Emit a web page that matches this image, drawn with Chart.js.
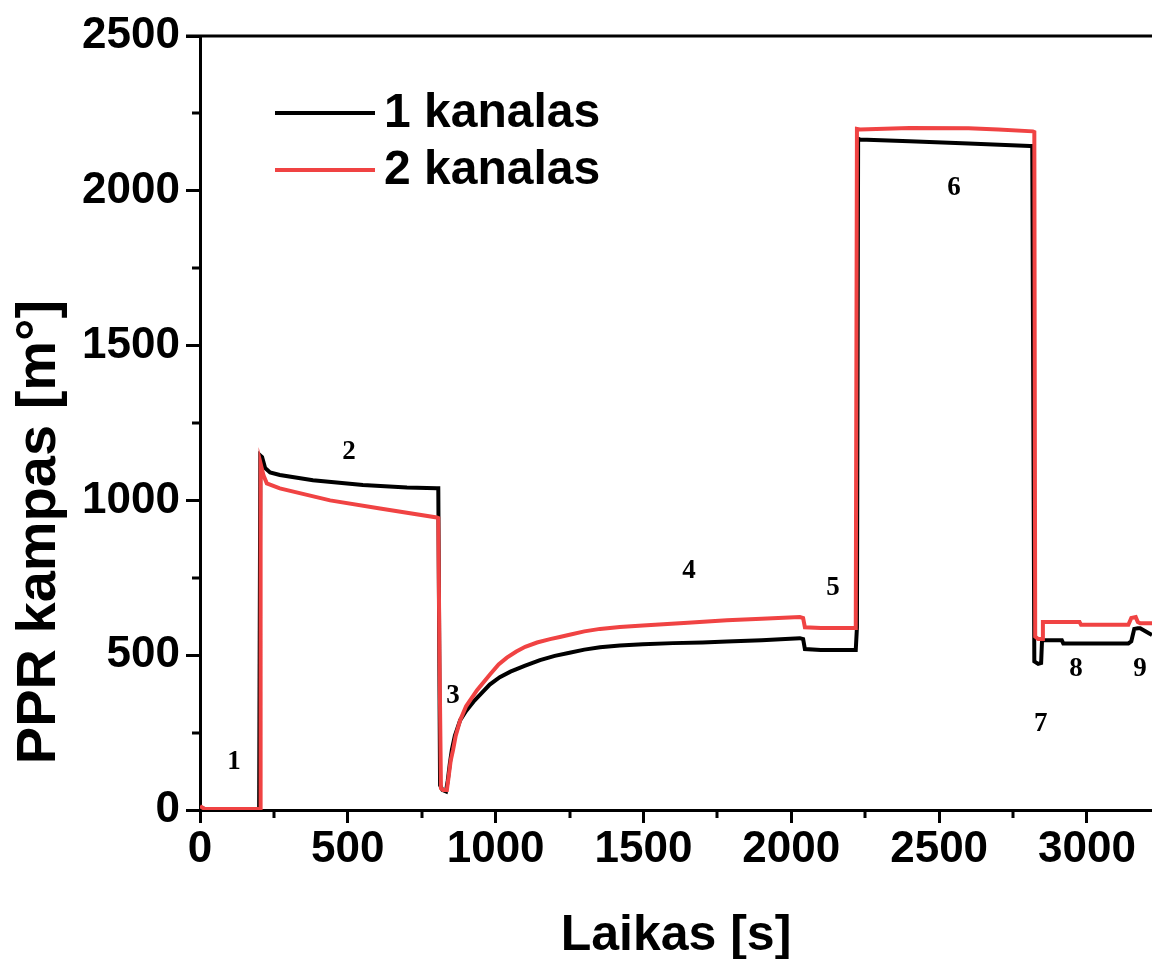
<!DOCTYPE html>
<html>
<head>
<meta charset="utf-8">
<script src="https://cdn.jsdelivr.net/npm/chart.js@4.4.1/dist/chart.umd.min.js"></script>
<style>
  html, body { margin: 0; padding: 0; background: #fff; }
</style>
</head>
<body>
<canvas id="chart" width="1152" height="959"></canvas>
<script>
'use strict';

// ─── values ──────────────────────────────────────────────────
const seriesNames = ['1 kanalas', '2 kanalas'];

const timeCh1  = [0, 15, 200, 204, 210, 220, 237, 270, 382, 551, 700, 801, 806, 812, 820, 832, 838, 845, 852, 862, 880, 900, 925, 950, 980, 1014, 1050, 1100, 1150, 1200, 1250, 1300, 1353, 1420, 1498, 1600, 1700, 1782, 1900, 1980, 2029, 2040, 2046, 2100, 2218, 2222, 2226, 2232, 2400, 2600, 2807, 2815, 2822, 2835, 2845, 2848, 2880, 2915, 2920, 3140, 3150, 3160, 3172, 3180, 3220];
const angleCh1 = [10, 3, 2, 1145, 1140, 1105, 1090, 1082, 1065, 1050, 1042, 1039, 1039, 80, 65, 60, 95, 150, 195, 240, 290, 320, 350, 375, 405, 429, 447, 466, 484, 498, 508, 518, 526, 531, 535, 539, 541, 544, 548, 552, 555, 552, 520, 517, 517, 590, 2168, 2166, 2160, 2153, 2145, 2145, 480, 472, 475, 548, 548, 548, 538, 538, 545, 585, 587, 587, 565, 565];

const timeCh2  = [0, 15, 200, 203, 205, 215, 226, 270, 440, 609, 801, 806, 810, 815, 822, 835, 840, 848, 856, 865, 880, 900, 937, 980, 1010, 1038, 1070, 1100, 1140, 1184, 1217, 1250, 1300, 1353, 1420, 1498, 1650, 1782, 1900, 2029, 2040, 2046, 2100, 2218, 2222, 2232, 2400, 2600, 2700, 2817, 2822, 2825, 2835, 2848, 2851, 2900, 2975, 2980, 3140, 3150, 3165, 3172, 3180, 3220];
const angleCh2 = [12, 4, 3, 3, 1119, 1080, 1055, 1039, 1000, 974, 945, 943, 500, 70, 65, 65, 100, 160, 194, 240, 290, 335, 387, 437, 470, 492, 512, 527, 541, 552, 559, 566, 577, 585, 591, 596, 605, 613, 618, 623, 620, 590, 588, 588, 2200, 2198, 2203, 2202, 2198, 2192, 2190, 560, 552, 552, 607, 607, 607, 598, 598, 620, 623, 607, 603, 603];

const stageLabels = ['1', '2', '3', '4', '5', '6', '7', '8', '9'];
const stageTime   = [115, 504, 856, 1654, 2141, 2550, 2844, 2963, 3179];
const stageAngle  = [155, 1155, 368, 771, 716, 2010, 278, 455, 455];

const xTickValues = [0, 500, 1000, 1500, 2000, 2500, 3000];
const yTickValues = [0, 500, 1000, 1500, 2000, 2500];
const xRange = [0, 3220];
const yRange = [0, 2500];
const minorStep = 250;

// ─── styling ────────────────────────────────────────────────
const FONT = "'Liberation Sans', Arial, sans-serif";
const colors = ['#000000', '#f04343'];

const toPoints = (xs, ys) => xs.map((t, i) => ({ x: t, y: ys[i] }));

// frame line on top, minor ticks, stage numbers, legend, y title
const decorPlugin = {
  id: 'decor',
  afterDraw(chart) {
    const { ctx, chartArea: a, scales: { x, y } } = chart;
    ctx.save();
    ctx.strokeStyle = '#000';
    ctx.lineWidth = 3;

    ctx.beginPath();
    ctx.moveTo(a.left - 14, a.top);
    ctx.lineTo(a.right, a.top);
    ctx.stroke();

    ctx.beginPath();
    for (let v = minorStep; v <= xRange[1]; v += 2 * minorStep) {
      const px = Math.round(x.getPixelForValue(v));
      ctx.moveTo(px, a.bottom);
      ctx.lineTo(px, a.bottom + 8);
    }
    for (let v = minorStep; v < yRange[1]; v += 2 * minorStep) {
      const py = Math.round(y.getPixelForValue(v));
      ctx.moveTo(a.left, py);
      ctx.lineTo(a.left - 8, py);
    }
    ctx.stroke();

    // stage numbers
    ctx.fillStyle = '#000';
    ctx.font = "bold 27px 'Liberation Serif', 'Times New Roman', serif";
    ctx.textAlign = 'center';
    ctx.textBaseline = 'middle';
    stageLabels.forEach((s, i) => {
      ctx.fillText(s, x.getPixelForValue(stageTime[i]), y.getPixelForValue(stageAngle[i]));
    });

    // legend
    ctx.font = 'bold 48px ' + FONT;
    ctx.textAlign = 'left';
    seriesNames.forEach((name, i) => {
      const ly = a.top + 77 + i * 57;
      ctx.strokeStyle = colors[i];
      ctx.lineWidth = 4;
      ctx.beginPath();
      ctx.moveTo(a.left + 75, ly);
      ctx.lineTo(a.left + 175, ly);
      ctx.stroke();
      ctx.fillStyle = '#000';
      ctx.fillText(name, a.left + 184, ly + 1);
    });

    // y axis title
    ctx.translate(40, 532);
    ctx.rotate(-Math.PI / 2);
    ctx.textAlign = 'center';
    ctx.font = 'bold 56px ' + FONT;
    ctx.fillText('PPR kampas [m°]', 0, 0);
    ctx.restore();
  }
};

new Chart(document.getElementById('chart').getContext('2d'), {
  type: 'line',
  data: {
    datasets: [
      {
        label: seriesNames[0],
        data: toPoints(timeCh1, angleCh1),
        borderColor: colors[0],
        borderWidth: 4,
        pointRadius: 0,
        order: 1,
      },
      {
        label: seriesNames[1],
        data: toPoints(timeCh2, angleCh2),
        borderColor: colors[1],
        borderWidth: 4,
        pointRadius: 0,
        order: 0,
      },
    ],
  },
  options: {
    responsive: false,
    animation: false,
    layout: { padding: { top: 36, right: 0, left: 0, bottom: 0 } },
    plugins: { legend: { display: false }, tooltip: { enabled: false } },
    scales: {
      x: {
        type: 'linear',
        min: xRange[0],
        max: xRange[1],
        afterBuildTicks: s => { s.ticks = xTickValues.map(v => ({ value: v })); },
        afterFit: s => { s.height = 149; },
        border: { color: '#000', width: 3 },
        grid: { drawOnChartArea: false, color: '#000', tickLength: 13, tickWidth: 3 },
        ticks: {
          autoSkip: false,
          maxRotation: 0,
          padding: 0,
          color: '#000',
          font: { family: FONT, size: 44, weight: 'bold' },
          callback: v => String(v),
        },
        title: {
          display: true,
          text: 'Laikas [s]',
          color: '#000',
          font: { family: FONT, size: 50, weight: 'bold', lineHeight: 0.9 },
          padding: { top: 0, bottom: 0 },
        },
      },
      y: {
        min: yRange[0],
        max: yRange[1],
        afterBuildTicks: s => { s.ticks = yTickValues.map(v => ({ value: v })); },
        afterFit: s => { s.width = 200; },
        border: { color: '#000', width: 3 },
        grid: { drawOnChartArea: false, color: '#000', tickLength: 14, tickWidth: 3 },
        ticks: {
          autoSkip: false,
          padding: 6,
          color: '#000',
          font: { family: FONT, size: 44, weight: 'bold' },
          callback: v => String(v),
        },
      },
    },
  },
  plugins: [decorPlugin],
});
</script>
</body>
</html>
